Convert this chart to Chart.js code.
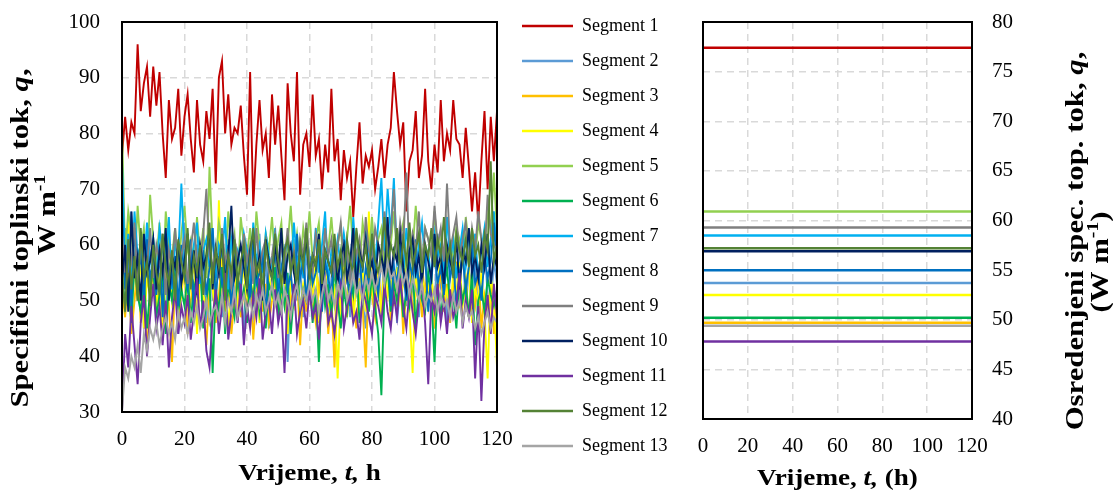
<!DOCTYPE html>
<html>
<head>
<meta charset="utf-8">
<script src="https://cdn.jsdelivr.net/npm/chart.js@4.4.1/dist/chart.umd.min.js"></script>
<style>
  html, body { margin: 0; padding: 0; background: #fff; }
  #wrap { position: relative; width: 1113px; height: 496px; overflow: hidden; }
  #leftChart { position: absolute; left: 0; top: 0; }
  #rightChart { position: absolute; left: 505px; top: 0; }
</style>
</head>
<body>
<div id="wrap">
  <canvas id="leftChart" width="522" height="496"></canvas>
  <canvas id="rightChart" width="608" height="496"></canvas>
</div>
<script>
const FONT = "'Liberation Serif', 'Times New Roman', serif";

const segmentNames = ['Segment 1', 'Segment 2', 'Segment 3', 'Segment 4', 'Segment 5', 'Segment 6', 'Segment 7',
  'Segment 8', 'Segment 9', 'Segment 10', 'Segment 11', 'Segment 12', 'Segment 13'];
const segmentColors = ['#c00000', '#5b9bd5', '#ffc000', '#ffff00', '#92d050', '#00b050', '#00b0f0',
  '#0070c0', '#7f7f7f', '#002060', '#7030a0', '#548235', '#a5a5a5'];

// hourly heat flux, t = 0..120 h
const seg1 = [76,83,77,82,80,96,84,89,92,83, 92,85,91,80,72,86,79,81,88,76,
  83,87,79,73,86,78,75,84,79,88, 71,90,93,80,87,78,81,80,85,76,
  69,91,67,78,86,77,80,72,87,78, 85,76,68,89,80,75,91,69,78,80,
  74,87,76,79,70,78,73,88,75,79, 68,77,72,75,65,74,82,71,76,74,
  77,70,74,79,72,78,81,91,84,78, 82,66,75,77,84,72,76,88,75,70,
  78,73,86,75,80,77,86,79,78,72, 81,74,66,73,64,75,84,70,83,75, 84];
const seg2 = [58,63,49,66,55,50,59,45,63,52, 56,49,60,54,47,61,53,58,44,56,
  64,51,55,48,60,53,57,46,62,50, 55,59,47,54,61,52,49,58,55,43,
  60,53,56,48,62,51,57,45,55,60, 52,49,58,39,54,61,50,56,47,59,
  53,55,48,62,51,57,46,54,60,52, 49,58,55,47,61,53,56,50,45,57,
  63,52,54,48,60,55,51,58,46,53, 61,49,56,52,59,47,55,60,51,54,
  48,62,53,57,45,55,59,50,53,61, 48,56,52,58,46,54,60,51,49,57, 53];
const seg3 = [52,47,55,44,50,57,46,53,41,51, 55,48,52,45,58,49,39,54,47,51,
  56,44,50,53,47,57,49,42,52,55, 46,51,58,48,53,44,50,56,47,52,
  49,55,43,51,57,48,53,46,50,54, 47,52,56,45,51,49,55,42,53,48,
  57,50,46,53,49,55,44,51,38,52, 48,56,47,53,50,45,54,49,38,55,
  51,47,56,49,52,58,46,53,50,55, 44,52,57,48,51,54,47,53,49,56,
  45,51,55,48,53,46,52,57,49,50, 54,47,52,49,56,45,51,48,53,44, 50];
const seg4 = [60,52,65,48,56,50,58,45,54,51, 57,49,55,46,53,59,50,54,47,52,
  56,48,53,57,44,55,51,49,58,52, 47,68,50,55,45,53,58,49,52,56,
  48,54,51,57,46,53,49,55,50,58, 47,52,56,44,54,50,57,48,53,51,
  55,49,58,46,52,56,50,47,53,36, 51,55,49,57,46,53,50,56,48,66,
  52,49,55,47,58,51,54,49,56,50, 53,57,48,37,54,51,56,49,52,55,
  47,53,58,50,52,48,55,51,57,49, 53,56,46,52,50,55,48,36,54,51, 38];
const seg5 = [81,58,66,62,55,67,59,63,54,69, 61,57,64,52,66,60,58,63,55,62,
  67,59,61,56,65,58,63,54,74,60, 57,64,61,55,66,59,62,53,65,60,
  58,63,56,66,60,54,62,59,65,57, 61,64,55,60,67,58,62,56,63,59,
  66,57,61,64,55,62,59,65,58,60, 63,56,61,67,59,62,55,64,60,58,
  65,57,61,63,56,62,60,66,58,61, 64,55,62,59,67,60,57,63,61,58,
  66,59,62,56,64,60,58,63,61,57, 65,60,62,57,64,61,59,66,63,73, 62];
const seg6 = [55,49,53,46,57,51,48,54,45,52, 56,47,51,54,44,53,50,57,48,52,
  49,55,46,53,51,57,45,50,54,37, 52,48,56,44,53,50,47,55,49,52,
  46,54,50,57,48,52,45,53,51,56, 47,53,49,55,44,51,57,48,52,50,
  54,46,52,39,55,49,53,47,56,50, 45,52,48,54,51,57,46,50,53,48,
  55,49,44,33,52,56,48,53,50,54, 47,52,49,56,45,53,50,48,55,51,
  39,53,47,52,56,49,51,45,54,50, 53,47,55,42,50,52,48,54,51,49, 52];
const seg7 = [75,56,62,53,66,58,60,55,64,57, 61,54,63,59,56,65,52,60,58,71,
  57,62,55,60,64,53,59,61,56,63, 54,60,58,65,52,61,57,59,55,62,
  59,53,64,57,60,55,62,58,56,63, 52,60,58,61,55,64,57,59,54,62,
  58,56,63,55,60,66,53,59,57,61, 56,62,58,54,65,57,60,55,63,58,
  61,56,64,72,59,70,62,72,57,60, 55,63,58,61,54,60,64,57,59,53,
  62,58,60,55,65,57,61,54,59,63, 56,60,57,62,54,59,63,56,61,66, 58];
const seg8 = [68,52,60,49,63,55,58,50,61,54, 57,51,59,47,62,56,53,58,49,60,
  55,52,61,48,57,54,59,51,56,63, 50,58,53,55,60,48,57,54,52,59,
  56,50,61,53,55,58,47,57,54,60, 51,56,59,52,55,49,62,54,57,50,
  58,53,55,60,48,57,54,51,59,56, 52,61,55,49,57,54,59,50,56,53,
  60,55,51,58,54,62,49,56,53,59, 55,50,57,54,61,52,56,58,48,55,
  59,53,56,51,60,54,57,49,55,58, 52,56,60,53,55,50,58,54,57,64, 55];
const seg9 = [62,55,60,57,64,52,61,58,56,63, 54,60,57,62,51,59,56,63,55,58,
  61,53,59,64,57,55,62,70,58,56, 60,54,63,57,59,52,61,58,55,62,
  57,60,53,63,56,59,61,55,58,62, 54,60,57,63,56,59,52,61,58,64,
  57,55,62,59,56,63,58,61,55,60, 64,57,59,53,62,58,61,56,65,59,
  57,63,60,56,66,59,62,70,58,64, 60,73,57,62,59,66,56,63,61,58,
  67,60,63,57,71,59,62,65,58,61, 64,57,63,59,66,61,58,69,62,60, 59];
const seg10 = [53,60,48,66,54,58,50,62,55,57, 61,52,59,55,63,50,58,56,60,53,
  57,62,54,59,51,60,56,58,63,52, 59,55,61,53,58,67,54,57,60,56,
  52,59,62,55,58,50,61,57,54,60, 56,63,53,58,60,55,52,59,57,61,
  54,58,56,62,51,59,57,55,61,53, 58,60,54,57,63,52,59,56,61,55,
  57,53,60,58,55,65,54,59,57,62, 56,52,59,61,55,58,53,60,57,54,
  62,56,58,53,60,57,55,61,52,59, 57,63,55,58,54,60,56,62,53,58, 56];
const seg11 = [30,44,38,49,42,35,46,51,40,47, 53,45,49,42,50,38,47,52,44,49,
  46,51,43,48,54,45,50,41,38,47, 52,44,49,55,43,48,51,46,53,42,
  49,45,51,47,54,43,48,50,44,52, 46,49,37,51,47,53,44,48,50,45,
  52,47,49,43,51,54,46,48,44,50, 53,45,49,51,46,48,43,52,50,47,
  44,51,49,46,53,48,45,51,47,54, 49,45,52,48,44,50,53,46,35,51,
  48,53,46,50,44,52,47,49,55,45, 50,47,52,36,49,32,46,51,44,53, 47];
const seg12 = [55,48,61,52,58,50,63,54,57,49, 60,55,51,62,56,53,59,50,61,57,
  54,63,52,58,55,60,51,57,64,53, 59,56,62,50,58,55,61,53,57,60,
  52,58,63,55,57,51,60,56,54,62, 57,53,59,61,55,58,52,60,56,63,
  54,58,56,61,53,59,57,55,62,56, 59,53,61,57,55,63,58,56,60,54,
  62,57,55,59,65,56,60,58,63,55, 61,57,64,56,59,62,55,60,58,63,
  56,61,58,65,57,60,54,62,59,57, 61,56,63,58,60,55,62,59,75,57, 60];
const seg13 = [30,38,36,40,38,42,37,44,41,45, 43,46,42,45,47,44,46,43,48,45,
  47,44,48,46,49,45,47,50,46,48, 49,47,51,46,50,48,52,47,49,51,
  48,50,47,51,49,52,48,50,53,49, 51,48,52,50,47,51,53,49,52,50,
  53,50,52,48,51,54,50,52,49,53, 51,54,50,52,55,51,53,50,54,52,
  55,52,54,56,53,57,54,55,52,56, 53,55,51,54,52,50,53,49,51,50,
  52,48,51,49,50,47,51,48,50,46, 49,47,48,45,47,44,46,48,45,47, 46];
const segmentSeries = [seg1, seg2, seg3, seg4, seg5, seg6, seg7, seg8, seg9, seg10, seg11, seg12, seg13];

// averaged heat flux per segment (right panel)
const averageFlux = [77.4, 53.7, 49.7, 52.5, 60.9, 50.2, 58.5, 55.0, 59.3, 56.9, 47.8, 57.2, 49.4];
const averageSpan = [0, 120];

const tickFont = { family: FONT, size: 21, lineHeight: '44px' };

// bold title text with italic / superscript parts, centred on (cx, cy)
function richText(ctx, parts, cx, cy, size, vertical, stretch) {
  const fontOf = p => (p.i ? 'italic ' : '') + 'bold ' + Math.round(p.sup ? size * 0.62 : size) + 'px ' + FONT;
  ctx.save();
  ctx.translate(cx, cy);
  if (vertical) ctx.rotate(-Math.PI / 2);
  ctx.scale(stretch || 1, 1);
  let total = 0;
  parts.forEach(p => { ctx.font = fontOf(p); total += ctx.measureText(p.t).width; });
  let x = -total / 2;
  ctx.fillStyle = '#000';
  ctx.textAlign = 'left';
  ctx.textBaseline = 'alphabetic';
  parts.forEach(p => {
    ctx.font = fontOf(p);
    ctx.fillText(p.t, x, size * 0.33 - (p.sup ? size * 0.42 : 0));
    x += ctx.measureText(p.t).width;
  });
  ctx.restore();
}

const framePlugin = {
  id: 'frame',
  afterDatasetsDraw(chart) {
    const { ctx, chartArea: a } = chart;
    ctx.save();
    ctx.strokeStyle = '#000';
    ctx.lineWidth = 2;
    ctx.strokeRect(a.left, a.top, a.right - a.left, a.bottom - a.top);
    ctx.restore();
  }
};

function titlesPlugin(items) {
  return {
    id: 'titles',
    afterDraw(chart) {
      const a = chart.chartArea;
      items.forEach(it => {
        const x = it.x === 'center' ? (a.left + a.right) / 2 : it.x;
        richText(chart.ctx, it.parts, x, it.y, it.size, it.vertical, it.stretch);
      });
    }
  };
}

function xScale(height) {
  return {
    type: 'linear', min: 0, max: 120,
    ticks: { stepSize: 20, color: '#000', font: { family: FONT, size: 21 }, padding: 0, maxRotation: 0, autoSkip: false },
    grid: { color: '#d9d9d9', lineWidth: 1.5, tickLength: 15, tickColor: 'transparent' },
    border: { display: false, dash: [7, 5] },
    afterFit: s => { s.height = height; }
  };
}

function yScale(min, max, step, position, width, gap) {
  return {
    type: 'linear', position, min, max,
    ticks: { stepSize: step, color: '#000', font: tickFont, padding: 0, autoSkip: false },
    grid: { color: '#d9d9d9', lineWidth: 1.5, tickLength: gap, tickColor: 'transparent' },
    border: { display: false, dash: [7, 5] },
    afterFit: s => { s.width = width; }
  };
}

new Chart(document.getElementById('leftChart'), {
  type: 'line',
  data: {
    datasets: segmentSeries.map((vals, i) => ({
      label: segmentNames[i],
      data: vals.map((v, h) => ({ x: h, y: v })),
      borderColor: segmentColors[i],
      backgroundColor: segmentColors[i],
      borderWidth: 1.9,
      pointRadius: 0,
      order: segmentSeries.length - i
    }))
  },
  options: {
    responsive: false,
    animation: false,
    layout: { padding: { right: 25 } },
    plugins: { legend: { display: false }, tooltip: { enabled: false } },
    scales: {
      x: xScale(84),
      y: yScale(30, 100, 10, 'left', 122, 22)
    }
  },
  plugins: [framePlugin, titlesPlugin([
    { parts: [{ t: 'Specifični toplinski tok, ' }, { t: 'q', i: 1 }, { t: ',' }], x: 20, y: 238, size: 25, stretch: 1.23, vertical: true },
    { parts: [{ t: 'W m' }, { t: '-1', sup: 1 }], x: 47, y: 215, size: 25, stretch: 1.23, vertical: true },
    { parts: [{ t: 'Vrijeme, ' }, { t: 't,', i: 1 }, { t: ' h' }], x: 'center', y: 472, size: 23, stretch: 1.18 }
  ])]
});

new Chart(document.getElementById('rightChart'), {
  type: 'line',
  data: {
    datasets: averageFlux.map((v, i) => ({
      label: segmentNames[i],
      data: averageSpan.map(t => ({ x: t, y: v })),
      borderColor: segmentColors[i],
      backgroundColor: segmentColors[i],
      borderWidth: 2.5,
      pointRadius: 0
    }))
  },
  options: {
    responsive: false,
    animation: false,
    plugins: {
      tooltip: { enabled: false },
      legend: {
        position: 'left',
        align: 'start',
        maxWidth: 200,
        labels: {
          usePointStyle: true, pointStyle: 'line', pointStyleWidth: 51,
          color: '#000', font: { family: FONT, size: 18 }, padding: 17
        }
      }
    },
    scales: {
      x: xScale(77),
      y: yScale(40, 80, 5, 'right', 141, 20),
      pad: {
        type: 'linear', axis: 'y', position: 'left', display: true,
        ticks: { display: false }, grid: { display: false }, border: { display: false },
        afterFit: s => { s.width = Math.max(0, 198 - s.chart.legend.width); }
      }
    }
  },
  plugins: [framePlugin, titlesPlugin([
    { parts: [{ t: 'Osredenjeni spec. top. tok, ' }, { t: 'q', i: 1 }, { t: ',' }], x: 570, y: 241, size: 25, stretch: 1.23, vertical: true },
    { parts: [{ t: '(W m' }, { t: '-1', sup: 1 }, { t: ')' }], x: 595, y: 262, size: 25, stretch: 1.23, vertical: true },
    { parts: [{ t: 'Vrijeme, ' }, { t: 't,', i: 1 }, { t: ' (h)' }], x: 'center', y: 477, size: 23, stretch: 1.18 }
  ])]
});
</script>
</body>
</html>
